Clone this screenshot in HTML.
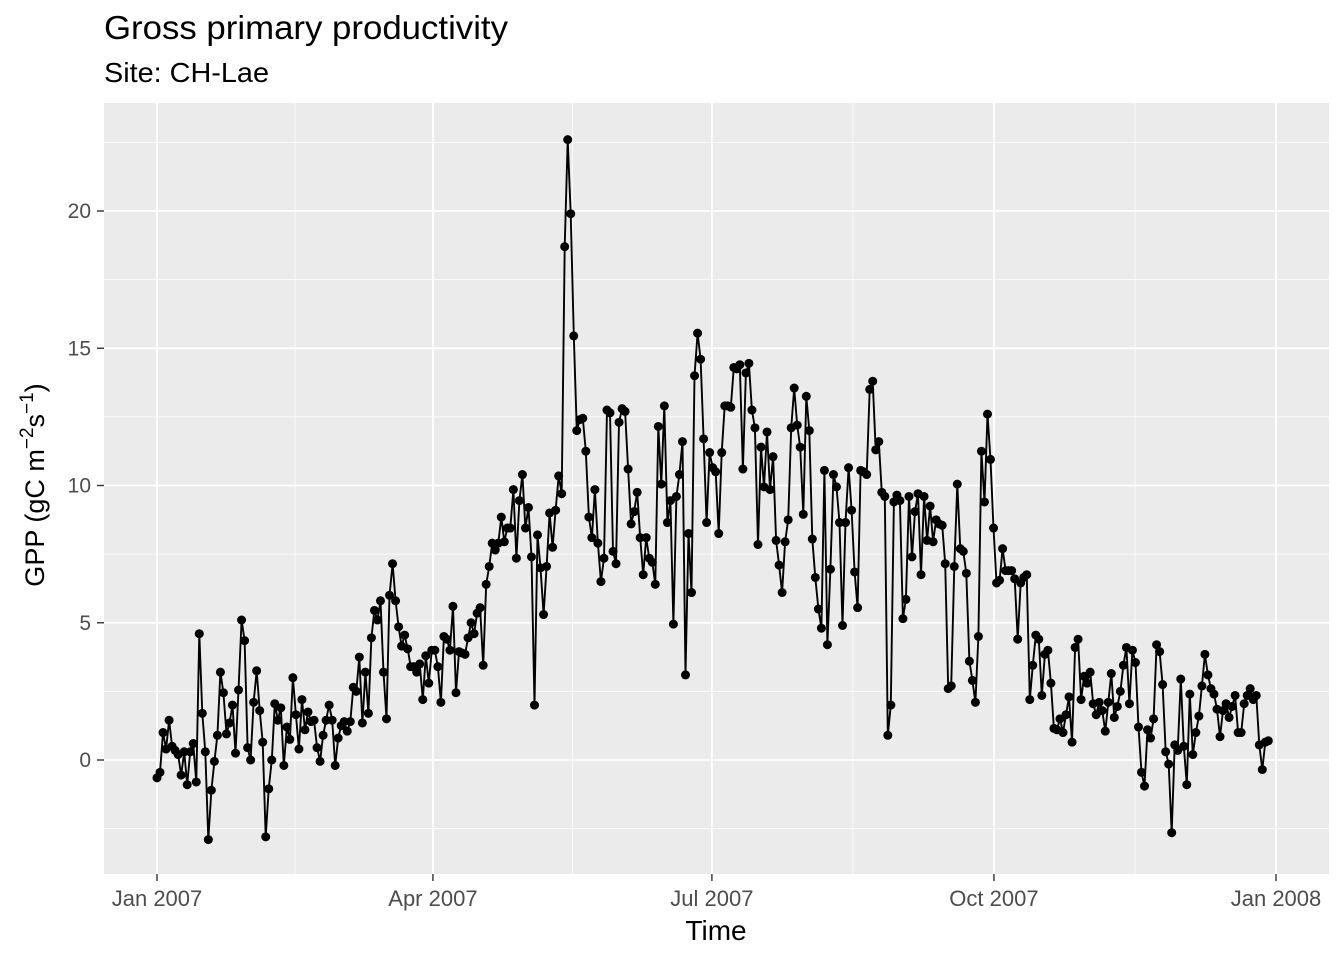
<!DOCTYPE html>
<html><head><meta charset="utf-8"><style>
body{margin:0;background:#fff;}
svg text{font-family:"Liberation Sans",Arial,sans-serif;}
</style></head><body>
<svg id="chart" width="1344" height="960" xmlns="http://www.w3.org/2000/svg">
<rect width="1344" height="960" fill="#fff"/>
<text x="104" y="39" font-size="33" textLength="404" lengthAdjust="spacingAndGlyphs" fill="#000">Gross primary productivity</text>
<text x="104" y="82" font-size="28" textLength="165" lengthAdjust="spacingAndGlyphs" fill="#000">Site: CH-Lae</text>
<rect x="104" y="103" width="1225" height="771" fill="#EBEBEB"/>
<g id="grid"></g>
<g id="series"></g>
<g id="axes"></g>
<text x="716" y="940" font-size="28" text-anchor="middle" fill="#000">Time</text>
<text transform="translate(44,485) rotate(-90)" font-size="27" text-anchor="middle" fill="#000">GPP (gC m<tspan dy="-11" font-size="19">−2</tspan><tspan dy="11">s</tspan><tspan dy="-11" font-size="19">−1</tspan><tspan dy="11">)</tspan></text>
</svg>
<script>
const gppValues=[-0.65,-0.45,1.0,0.4,1.45,0.5,0.35,0.2,-0.55,0.3,-0.9,0.3,0.6,-0.8,4.6,1.7,0.3,-2.9,-1.1,-0.05,0.9,3.2,2.45,0.95,1.35,2.0,0.25,2.55,5.1,4.35,0.45,0.0,2.1,3.25,1.8,0.65,-2.8,-1.05,0.0,2.05,1.45,1.9,-0.2,1.2,0.75,3.0,1.65,0.4,2.2,1.1,1.75,1.4,1.45,0.45,-0.05,0.9,1.45,2.0,1.45,-0.2,0.8,1.25,1.4,1.05,1.4,2.65,2.5,3.75,1.35,3.2,1.7,4.45,5.45,5.1,5.8,3.2,1.5,6.0,7.15,5.8,4.85,4.15,4.55,4.05,3.4,3.4,3.2,3.5,2.2,3.8,2.8,4.0,4.0,3.4,2.1,4.5,4.4,4.0,5.6,2.45,3.95,3.9,3.85,4.45,5.0,4.6,5.35,5.55,3.45,6.4,7.05,7.9,7.65,7.9,8.85,7.95,8.45,8.45,9.85,7.35,9.45,10.4,8.45,9.2,7.4,2.0,8.2,7.0,5.3,7.05,9.0,7.75,9.1,10.35,9.7,18.7,22.6,19.9,15.45,12.0,12.4,12.45,11.25,8.85,8.1,9.85,7.9,6.5,7.35,12.75,12.65,7.6,7.15,12.3,12.8,12.7,10.6,8.6,9.05,9.75,8.1,6.75,8.1,7.35,7.2,6.4,12.15,10.05,12.9,8.65,9.45,4.95,9.6,10.4,11.6,3.1,8.25,6.1,14.0,15.55,14.6,11.7,8.65,11.2,10.65,10.5,8.25,11.2,12.9,12.9,12.85,14.3,14.25,14.4,10.6,14.1,14.45,12.75,12.1,7.85,11.4,9.95,11.95,9.85,11.05,8.0,7.1,6.1,7.95,8.75,12.1,13.55,12.2,11.4,8.95,13.25,12.0,8.05,6.65,5.5,4.8,10.55,4.2,6.95,10.4,9.95,8.65,4.9,8.65,10.65,9.1,6.85,5.55,10.55,10.5,10.4,13.5,13.8,11.3,11.6,9.75,9.6,0.9,2.0,9.4,9.65,9.45,5.15,5.85,9.6,7.4,9.05,9.7,6.75,9.6,8.0,9.25,7.95,8.75,8.6,8.55,7.15,2.6,2.7,7.05,10.05,7.7,7.6,6.8,3.6,2.9,2.1,4.5,11.25,9.4,12.6,10.95,8.45,6.45,6.55,7.7,6.9,6.9,6.9,6.6,4.4,6.45,6.65,6.75,2.2,3.45,4.55,4.4,2.35,3.85,4.0,2.8,1.15,1.1,1.5,1.0,1.65,2.3,0.65,4.1,4.4,2.2,3.05,2.8,3.2,2.05,1.65,2.1,1.8,1.05,2.1,3.15,1.55,1.95,2.5,3.45,4.1,2.05,4.0,3.55,1.2,-0.45,-0.95,1.1,0.8,1.5,4.2,3.95,2.75,0.3,-0.15,-2.65,0.55,0.35,2.95,0.5,-0.9,2.4,0.2,1.0,1.6,2.7,3.85,3.1,2.6,2.4,1.85,0.85,1.8,2.05,1.55,1.95,2.35,1.0,1.0,2.05,2.35,2.6,2.2,2.35,0.55,-0.35,0.65,0.7];
const xTickLabels=["Jan 2007","Apr 2007","Jul 2007","Oct 2007","Jan 2008"];
const xTickDays=[0,90,181,273,365];
const yTickValues=[0,5,10,15,20];
const yTickLabels=["0","5","10","15","20"];
const NS="http://www.w3.org/2000/svg";
function xs(d){return 157+d*(1276-157)/365;}
function ys(v){return 760-v*(760-211)/20;}
function mk(tag,attrs,parent){const e=document.createElementNS(NS,tag);for(const k in attrs)e.setAttribute(k,attrs[k]);parent.appendChild(e);return e;}
const grid=document.getElementById('grid'),axes=document.getElementById('axes'),series=document.getElementById('series');
for(let v=-2.5;v<=22.5;v+=5){const l=mk('line',{x1:104,x2:1329,y1:ys(v),y2:ys(v),stroke:'#fff','stroke-width':0.8},grid);

}
for(let i=0;i<xTickDays.length-1;i++){const d=(xTickDays[i]+xTickDays[i+1])/2;const l=mk('line',{x1:xs(d),x2:xs(d),y1:103,y2:874,stroke:'#fff','stroke-width':0.8},grid);

}
yTickValues.forEach((v,i)=>{const l=mk('line',{x1:104,x2:1329,y1:ys(v),y2:ys(v),stroke:'#fff','stroke-width':1.8},grid);


const t=mk('line',{x1:97,x2:104,y1:ys(v),y2:ys(v),stroke:'#333','stroke-width':1.4},axes);


const tx=mk('text',{x:91,y:ys(v)+7,'font-size':21,'text-anchor':'end',fill:'#4D4D4D'},axes);tx.textContent=yTickLabels[i];

});
xTickDays.forEach((d,i)=>{const l=mk('line',{x1:xs(d),x2:xs(d),y1:103,y2:874,stroke:'#fff','stroke-width':1.8},grid);


const t=mk('line',{x1:xs(d),x2:xs(d),y1:874,y2:881,stroke:'#333','stroke-width':1.4},axes);


const tx=mk('text',{x:xs(d),y:906,'font-size':22,'text-anchor':'middle',fill:'#4D4D4D'},axes);tx.textContent=xTickLabels[i];

});
const n=gppValues.length;
const dayOf=i=>i*(364-1.5)/(n-1);
const pts=gppValues.map((v,i)=>xs(dayOf(i)).toFixed(1)+','+ys(v).toFixed(1)).join(' ');
const pl=mk('polyline',{points:pts,fill:'none',stroke:'#000','stroke-width':1.9,'stroke-linejoin':'round'},series);


gppValues.forEach((v,i)=>{const c=mk('circle',{cx:xs(dayOf(i)),cy:ys(v),r:4.5,fill:'#000'},series);

});
</script>
</body></html>
